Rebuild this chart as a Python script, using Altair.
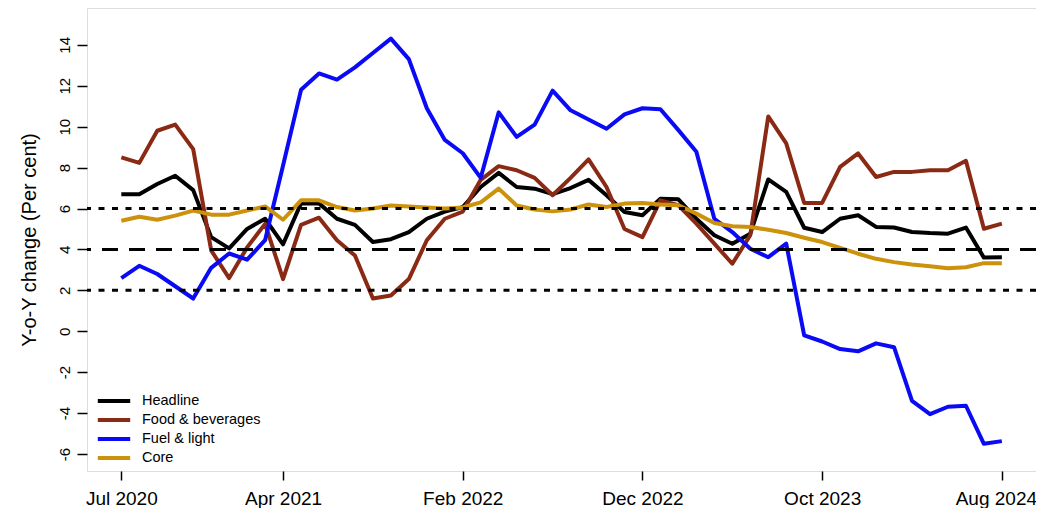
import altair as alt
import pandas as pd

# ---- data ----
months = list(pd.date_range("2020-07-01", periods=50, freq="MS").strftime("%b %Y"))

headline = [6.7, 6.7, 7.2, 7.6, 6.9, 4.6, 4.05, 5.0, 5.5, 4.25,
            6.25, 6.25, 5.5, 5.2, 4.36, 4.5, 4.85, 5.5, 5.85, 6.07,
            7.05, 7.74, 7.05, 6.97, 6.7, 7.0, 7.4, 6.65, 5.83, 5.67,
            6.48, 6.45, 5.5, 4.69, 4.28, 4.77, 7.42, 6.81, 5.06, 4.85,
            5.5, 5.67, 5.1, 5.07, 4.85, 4.8, 4.77, 5.07, 3.6, 3.62]
food = [8.5, 8.23, 9.8, 10.1, 8.9, 3.95, 2.6, 4.1, 5.25, 2.55,
        5.2, 5.55, 4.45, 3.7, 1.6, 1.75, 2.55, 4.45, 5.5, 5.85,
        7.4, 8.07, 7.87, 7.5, 6.65, 7.5, 8.4, 7.05, 5.0, 4.6,
        6.4, 6.16, 5.26, 4.28, 3.3, 4.69, 10.5, 9.18, 6.27, 6.27,
        8.03, 8.69, 7.54, 7.79, 7.79, 7.87, 7.87, 8.33, 5.01, 5.26]
fuel = [2.6, 3.2, 2.8, 2.2, 1.6, 3.1, 3.8, 3.5, 4.45, 8.1,
        11.8, 12.6, 12.3, 12.9, 13.6, 14.3, 13.3, 10.9, 9.35, 8.7,
        7.5, 10.7, 9.5, 10.1, 11.76, 10.8, 10.35, 9.9, 10.6, 10.9,
        10.85, 9.83, 8.77, 5.5, 4.85, 4.03, 3.62, 4.28, -0.2, -0.5,
        -0.87, -0.98, -0.59, -0.78, -3.4, -4.05, -3.69, -3.64, -5.5, -5.37]
core = [5.4, 5.6, 5.45, 5.65, 5.9, 5.7, 5.7, 5.9, 6.1, 5.45,
        6.4, 6.4, 6.07, 5.9, 6.0, 6.15, 6.1, 6.05, 6.0, 6.05,
        6.3, 6.97, 6.15, 5.95, 5.86, 5.95, 6.2, 6.07, 6.24, 6.27,
        6.2, 6.16, 5.75, 5.29, 5.13, 5.1, 4.96, 4.8, 4.57, 4.36,
        4.08, 3.79, 3.54, 3.38, 3.26, 3.18, 3.08, 3.13, 3.33, 3.33]

series_names = ["Headline", "Food & beverages", "Fuel & light", "Core"]
series_values = [headline, food, fuel, core]
colors = ["#000000", "#8B2A14", "#0A0AF5", "#CC920C"]

tick_idx = [0, 9, 19, 29, 39, 49]
y_ticks = list(range(-6, 15, 2))
dotted_levels = [2, 6]
dashed_levels = [4]

FONT = "Liberation Sans"

rows = []
for name, vals in zip(series_names, series_values):
    for i, v in enumerate(vals):
        rows.append({"idx": i, "month": months[i], "series": name, "value": v})
df = pd.DataFrame(rows)

label_expr = ""
for t in tick_idx:
    label_expr += f"datum.value == {t} ? '{months[t]}' : "
label_expr += "''"

x_enc = alt.X(
    "idx:Q",
    scale=alt.Scale(domain=[-1.91, 50.9], nice=False, zero=False),
    axis=alt.Axis(values=tick_idx, labelExpr=label_expr, title=None, grid=False,
                  domain=False, tickSize=9, tickWidth=1.5, tickColor="black",
                  labelFontSize=19, labelFont=FONT, labelColor="black",
                  labelBaseline="alphabetic", labelPadding=24,
                  labelOffset={"condition": {"test": f"datum.value == {tick_idx[-1]}",
                                             "value": -6}, "value": 0},
                  labelFlush=False, labelOverlap=False),
)
y_enc = alt.Y(
    "value:Q",
    scale=alt.Scale(domain=[-6.83, 15.8], nice=False, zero=False),
    axis=alt.Axis(values=y_ticks, labelExpr="'' + datum.value",
                  title="Y-o-Y change (Per cent)", grid=False,
                  domain=False, tickSize=10, tickWidth=1.5, tickColor="black",
                  labelFontSize=15, labelFont=FONT, labelColor="black",
                  labelAngle=-90, labelAlign="center", labelBaseline="alphabetic",
                  labelPadding=8, labelOverlap=False,
                  titleFont=FONT, titleFontSize=20, titleFontWeight="normal",
                  titleColor="black", titleX=-52, titleBaseline="alphabetic"),
)
color_enc = alt.Color(
    "series:N",
    scale=alt.Scale(domain=series_names, range=colors),
    legend=alt.Legend(title=None, orient="none", legendX=16, legendY=382,
                      symbolType="M-1.8,0L1.8,0", symbolSize=324,
                      symbolStrokeWidth=4, labelFontSize=14.5, labelFont=FONT,
                      labelColor="black", rowPadding=0, padding=0,
                      labelOffset=17),
)

layers = []
for name in series_names:
    layers.append(
        alt.Chart(df).transform_filter(alt.datum.series == name)
        .mark_line(strokeWidth=4, strokeJoin="round")
        .encode(x=x_enc, y=y_enc, color=color_enc)
    )

dotted = alt.Chart(pd.DataFrame({"level": dotted_levels})).mark_rule(
    color="black", strokeWidth=3, strokeDash=[6, 7.5]
).encode(y=alt.Y("level:Q"))
dashed = alt.Chart(pd.DataFrame({"level": dashed_levels})).mark_rule(
    color="black", strokeWidth=3, strokeDash=[16, 11]
).encode(y=alt.Y("level:Q"))

chart = alt.layer(*layers, dotted, dashed).properties(
    width=949, height=463,
    padding={"left": 79, "top": 0, "right": 0, "bottom": 37},
    autosize=alt.AutoSizeParams(type="none"),
).configure_view(stroke="black", strokeWidth=2).configure(background="white")

chart.save("out.html", embed_options={"renderer": "svg", "actions": False})
